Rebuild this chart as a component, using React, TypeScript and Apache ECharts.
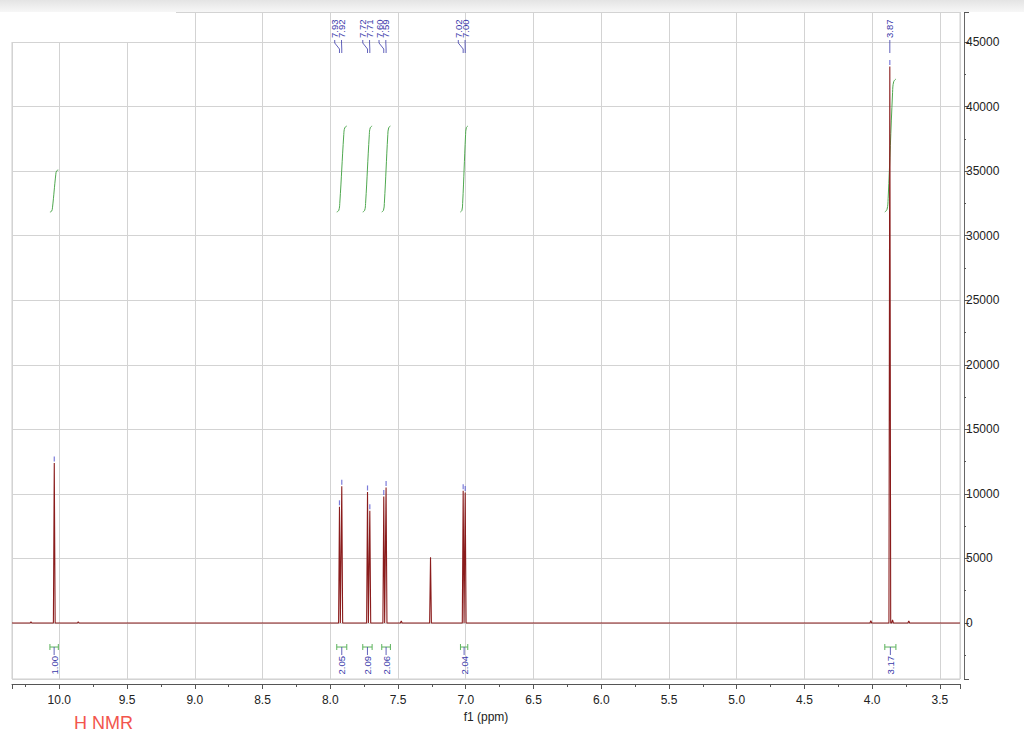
import React, { useEffect, useRef } from "react";
import * as echarts from "echarts";

// ---- axis ranges (ppm is inverted) ----
const X_MIN = 3.352;
const X_MAX = 10.349;
const Y_MIN = -4337;
const Y_MAX = 47323;

// ---- spectrum peaks (ppm, intensity) ----
const peakPpm = [10.209, 10.037, 9.86, 7.932, 7.915, 7.725, 7.708, 7.605, 7.588, 7.476, 7.26, 7.019, 7.004, 4.01, 3.87, 3.85, 3.73];
const peakHeight = [90, 12400, 90, 9000, 10600, 10150, 8700, 9800, 10500, 150, 5100, 10250, 10100, 180, 43100, 250, 160];

// ---- picked peaks (markers above peak tops) ----
const pickedPpm = [10.037, 7.932, 7.915, 7.725, 7.708, 7.605, 7.588, 7.019, 7.004, 3.87];
const pickedHeight = [12400, 9000, 10600, 10150, 8700, 9800, 10500, 10250, 10100, 43100];

// ---- peak labels at the top ----
const labelGroupText = [["7.93", "7.92"], ["7.72", "7.71"], ["7.60", "7.59"], ["7.02", "7.00"], ["3.87"]];
const labelGroupPpm = [[7.932, 7.915], [7.725, 7.708], [7.605, 7.588], [7.019, 7.004], [3.87]];

// ---- integrals ----
const integralStart = [10.069, 7.952, 7.76, 7.62, 7.039, 3.907];
const integralEnd = [10.007, 7.878, 7.691, 7.556, 6.985, 3.825];
const integralBase = [31830, 31830, 31830, 31830, 31830, 31830];
const integralTop = [35085, 38490, 38490, 38490, 38490, 42130];
const integralLabels = ["1.00", "2.05", "2.09", "2.06", "2.04", "3.17"];
const integralBracketValue = -1860;

const SPEC_COLOR = "#8a1c1c";
const INT_COLOR = "#4fa84f";
const LABEL_BLUE = "#3a3aaa";
const FONT = "Liberation Sans, Arial, sans-serif";

export default function App() {
  const ref = useRef<HTMLDivElement>(null);

  useEffect(() => {
    const chart = echarts.init(ref.current!, null, { renderer: "svg" });

    const HW = 0.0065;
    const order = peakPpm.map((_, i) => i).sort((a, b) => peakPpm[b] - peakPpm[a]);
    const spectrum: number[][] = [[X_MAX, 0]];
    order.forEach((i) => {
      spectrum.push([peakPpm[i] + HW, 0], [peakPpm[i], peakHeight[i]], [peakPpm[i] - HW, 0]);
    });
    spectrum.push([X_MIN, 0]);

    const integralSeries = integralStart.map((s, k) => {
      const e = integralEnd[k];
      const w = s - e;
      const b = integralBase[k];
      const t = integralTop[k];
      const H = t - b;
      return {
        type: "line",
        data: [
          [s, b],
          [s - 0.2 * w, b + 0.02 * H],
          [s - 0.3 * w, b + 0.1 * H],
          [e + 0.3 * w, t - 0.1 * H],
          [e + 0.2 * w, t - 0.02 * H],
          [e, t],
        ],
        smooth: 0.4,
        showSymbol: false,
        lineStyle: { color: INT_COLOR, width: 1 },
        z: 3,
        silent: true,
      };
    });

    const option: any = {
      animation: false,
      backgroundColor: "#ffffff",
      grid: {
        left: 12,
        right: 64,
        top: 12,
        bottom: 58,
        show: true,
        borderColor: "#cfcfcf",
        borderWidth: 1,
      },
      xAxis: {
        type: "value",
        inverse: true,
        min: X_MIN,
        max: X_MAX,
        minInterval: 0.5,
        maxInterval: 0.5,
        splitNumber: 14,
        offset: 5,
        name: "f1 (ppm)",
        nameLocation: "middle",
        nameGap: 23,
        nameTextStyle: { fontFamily: FONT, fontSize: 12, color: "#222" },
        axisLine: { show: true, onZero: false, lineStyle: { color: "#555", width: 1 } },
        axisTick: { show: true, length: 5, lineStyle: { color: "#555" } },
        minorTick: { show: true, splitNumber: 2, length: 3, lineStyle: { color: "#555" } },
        axisLabel: {
          fontFamily: FONT,
          fontSize: 12,
          color: "#222",
          margin: 10,
          formatter: (v: number) => (Math.abs(v * 2 - Math.round(v * 2)) < 1e-6 ? v.toFixed(1) : ""),
        },
        splitLine: { show: true, lineStyle: { color: "#d3d3d3", width: 1 } },
      },
      yAxis: {
        type: "value",
        position: "right",
        min: Y_MIN,
        max: Y_MAX,
        minInterval: 5000,
        maxInterval: 5000,
        splitNumber: 10,
        offset: 4,
        axisLine: { show: true, lineStyle: { color: "#666", width: 1 } },
        axisTick: { show: true, length: 5, lineStyle: { color: "#555" } },
        minorTick: { show: true, splitNumber: 2, length: 2, lineStyle: { color: "#555" } },
        axisLabel: {
          fontFamily: FONT,
          fontSize: 12,
          color: "#222",
          margin: 2,
          formatter: (v: number) => (Math.abs(v % 5000) < 1e-6 ? String(v) : ""),
        },
        splitLine: { show: true, lineStyle: { color: "#d3d3d3", width: 1 } },
      },
      series: [
        {
          type: "line",
          data: spectrum,
          showSymbol: false,
          lineStyle: { color: SPEC_COLOR, width: 1.1 },
          z: 4,
          silent: true,
        },
        ...integralSeries,
        {
          type: "scatter",
          data: pickedPpm.map((p, i) => [p, pickedHeight[i]]),
          symbol: "rect",
          symbolSize: [1.2, 5],
          symbolOffset: [0, -4],
          itemStyle: { color: "#5a5ad0" },
          z: 5,
          silent: true,
        },
      ],
    };
    chart.setOption(option);

    const toPx = (x: number, y: number) => chart.convertToPixel({ seriesIndex: 0 }, [x, y]) as number[];
    const graphics: any[] = [];

    // top grey strip and top-left white panel
    graphics.push({
      type: "rect",
      shape: { x: 0, y: 0, width: 1024, height: 12 },
      style: {
        fill: new echarts.graphic.LinearGradient(0, 0, 0, 1, [
          { offset: 0, color: "#e4e4e4" },
          { offset: 1, color: "#f7f7f7" },
        ]),
      },
      z: 50,
      silent: true,
    });
    graphics.push({
      type: "rect",
      shape: { x: 0, y: 12, width: 176, height: 30 },
      style: { fill: "#ffffff" },
      z: 50,
      silent: true,
    });

    // peak labels at the top
    labelGroupText.forEach((texts, g) => {
      const ppms = labelGroupPpm[g];
      const pxs = ppms.map((p) => toPx(p, 0)[0]);
      const center = pxs.reduce((a, b) => a + b, 0) / pxs.length;
      const n = texts.length;
      const shift = n > 1 ? -2.5 : 0;
      texts.forEach((t, i) => {
        const lx = center + shift + (i - (n - 1) / 2) * 6.8;
        graphics.push({
          type: "text",
          x: lx,
          y: 38,
          rotation: Math.PI / 2,
          style: {
            text: t,
            fontFamily: FONT,
            fontSize: 9.5,
            fill: LABEL_BLUE,
            align: "left",
            verticalAlign: "middle",
          },
          z: 60,
          silent: true,
        });
        graphics.push({
          type: "polyline",
          shape: {
            points: [
              [lx, 40],
              [lx, 43],
              [pxs[i], 49],
              [pxs[i], 53],
            ],
          },
          style: { stroke: LABEL_BLUE, lineWidth: 0.8, fill: null },
          z: 60,
          silent: true,
        });
      });
    });

    // integral brackets and values at the bottom
    integralStart.forEach((s, k) => {
      const a = toPx(s, integralBracketValue);
      const b = toPx(integralEnd[k], integralBracketValue);
      const yb = a[1];
      const xc = (a[0] + b[0]) / 2;
      graphics.push({
        type: "polyline",
        shape: { points: [[a[0], yb], [b[0], yb]] },
        style: { stroke: "#5cb35c", lineWidth: 1, fill: null },
        z: 60,
        silent: true,
      });
      [a[0], b[0]].forEach((x) =>
        graphics.push({
          type: "line",
          shape: { x1: x, y1: yb - 3, x2: x, y2: yb + 3 },
          style: { stroke: "#5cb35c", lineWidth: 1 },
          z: 60,
          silent: true,
        })
      );
      graphics.push({
        type: "line",
        shape: { x1: xc, y1: yb, x2: xc, y2: yb + 8 },
        style: { stroke: LABEL_BLUE, lineWidth: 0.8 },
        z: 60,
        silent: true,
      });
      graphics.push({
        type: "text",
        x: xc,
        y: yb + 9,
        rotation: Math.PI / 2,
        style: {
          text: integralLabels[k],
          fontFamily: FONT,
          fontSize: 9.5,
          fill: LABEL_BLUE,
          align: "right",
          verticalAlign: "middle",
        },
        z: 60,
        silent: true,
      });
    });

    // title
    graphics.push({
      type: "text",
      x: 74,
      y: 723,
      style: {
        text: "H NMR",
        fontFamily: FONT,
        fontSize: 18,
        fill: "#f2554d",
        align: "left",
        verticalAlign: "middle",
      },
      z: 60,
      silent: true,
    });

    chart.setOption({ graphic: graphics });

    return () => chart.dispose();
  }, []);

  return (
    <div
      ref={ref}
      style={{ position: "fixed", left: 0, top: 0, width: 1024, height: 737, background: "#fff" }}
    />
  );
}
